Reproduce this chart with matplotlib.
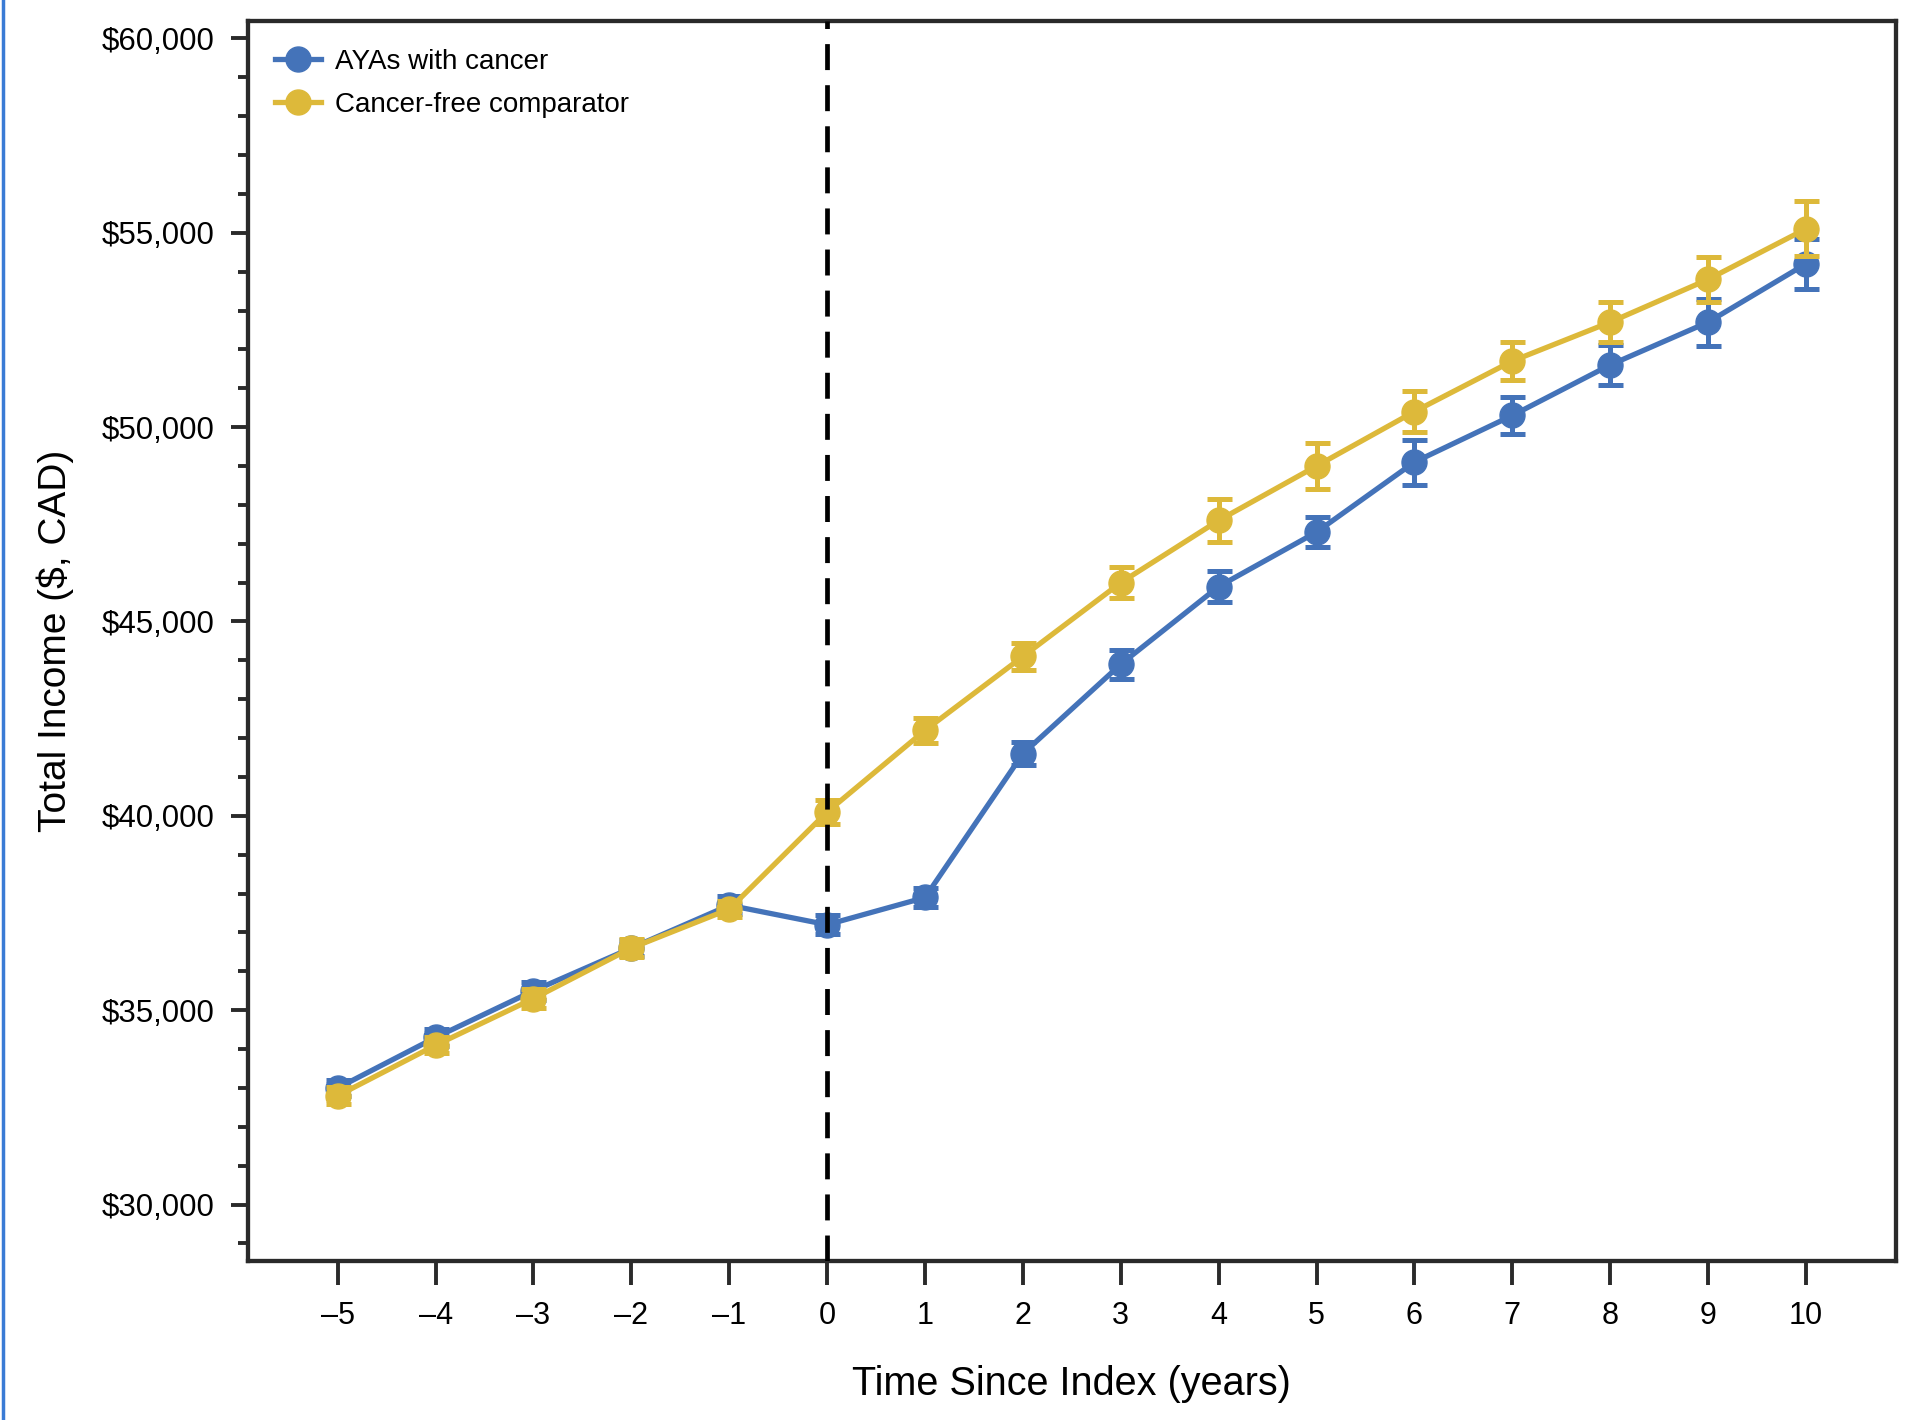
"""Total income over time since index: AYAs with cancer vs cancer-free comparator."""

import matplotlib
matplotlib.use("Agg")
import matplotlib.pyplot as plt
from matplotlib.lines import Line2D
from matplotlib.ticker import FuncFormatter, MultipleLocator

# Notes: values.
years = [-5, -4, -3, -2, -1, 0, 1, 2, 3, 4, 5, 6, 7, 8, 9, 10]
aya_income = [33000, 34300, 35500, 36600, 37700, 37200, 37900, 41600,
              43900, 45900, 47300, 49100, 50300, 51600, 52700, 54200]
aya_err = [200, 220, 230, 200, 230, 250, 250, 300,
           370, 410, 390, 580, 480, 520, 600, 650]
comp_income = [32800, 34100, 35300, 36600, 37600, 40100, 42200, 44100,
               46000, 47600, 49000, 50400, 51700, 52700, 53800, 55100]
comp_err = [220, 200, 240, 220, 200, 300, 330, 340,
            390, 550, 600, 530, 500, 520, 570, 710]

series_labels = ["AYAs with cancer", "Cancer-free comparator"]
x_label = "Time Since Index (years)"
y_label = "Total Income ($, CAD)"

BLUE = "#4473B9"
GOLD = "#DDB93A"
FRAME = "#2a2a2a"

plt.rcParams["font.family"] = ["Liberation Sans Narrow", "Liberation Sans", "DejaVu Sans"]

fig = plt.figure(figsize=(19.2, 14.2), dpi=100)
ax = fig.add_axes([0.129, 0.112, 0.8585, 0.873])

common = dict(marker="o", markersize=18, linewidth=3.8, elinewidth=3.6,
              capsize=9, capthick=3.6)
ax.errorbar(years, aya_income, yerr=aya_err, color=BLUE, zorder=3, **common)
ax.errorbar(years, comp_income, yerr=comp_err, color=GOLD, zorder=4, **common)

# Notes: index date marker drawn on top of the series.
ax.axvline(0, color="black", linewidth=3.4, linestyle=(0, (5.5, 3.2)), zorder=6)

ax.set_xlim(-5.92, 10.92)
ax.set_ylim(28550, 60440)
ax.set_xticks(years)
ax.set_xticklabels([str(y).replace("-", "\u2013") for y in years])
ax.yaxis.set_major_locator(MultipleLocator(5000))
ax.yaxis.set_minor_locator(MultipleLocator(1000))
ax.yaxis.set_major_formatter(FuncFormatter(lambda v, _: f"${v:,.0f}"))

for side in ax.spines.values():
    side.set_linewidth(3.1)
    side.set_color(FRAME)

ax.tick_params(axis="x", direction="out", length=17, width=2.8, color=FRAME,
               labelsize=22, pad=12)
ax.tick_params(axis="y", which="major", direction="out", length=12, width=2.8,
               color=FRAME, labelsize=22.5, pad=12)
ax.tick_params(axis="y", which="minor", direction="out", length=7, width=2.8,
               color=FRAME)

ax.set_xlabel(x_label, fontsize=28.5, labelpad=24)
ax.set_ylabel(y_label, fontsize=28, labelpad=20)

handles = [
    Line2D([], [], color=BLUE, marker="o", markersize=18, linewidth=3.8),
    Line2D([], [], color=GOLD, marker="o", markersize=18, linewidth=3.8),
]
ax.legend(handles, series_labels, loc="upper left", frameon=False, fontsize=20,
          handlelength=1.65, handletextpad=0.5, labelspacing=0.6,
          borderaxespad=0.6, bbox_to_anchor=(0.0, 1.0))

# Notes: thin blue rule at the page edge, as in the source scan.
fig.add_artist(Line2D([0.0015, 0.0015], [0, 1], transform=fig.transFigure,
                      color="#3a7bd5", linewidth=2.5))

fig.savefig("out.png", dpi=100)
